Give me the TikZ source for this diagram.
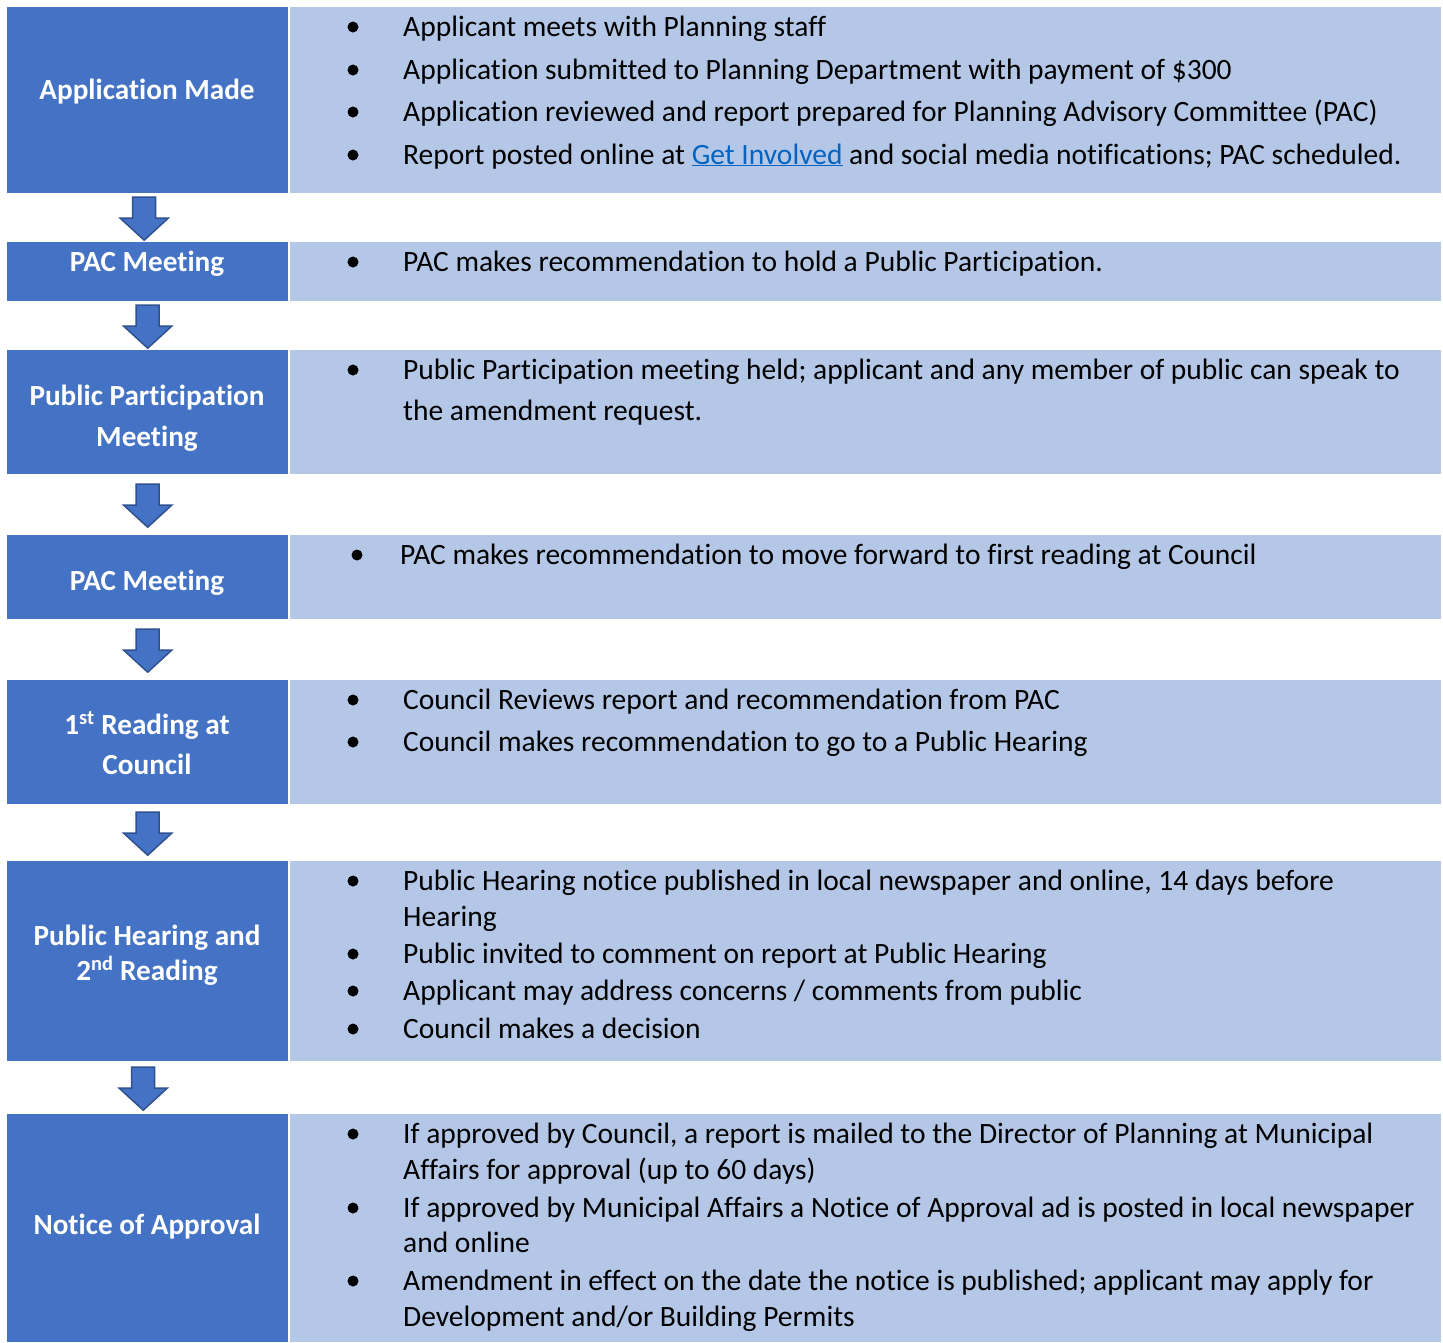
\documentclass[tikz,border=0pt]{standalone}
\usepackage{fontspec}
\setmainfont{Carlito}[Ligatures=NoCommon]
\usepackage{tikz}
\usetikzlibrary{calc}
\definecolor{darkblue}{HTML}{4472C4}
\definecolor{lightblue}{HTML}{B4C7E7}
\definecolor{edgeblue}{HTML}{2F528F}
\definecolor{linkblue}{HTML}{0563C1}
\tikzset{stepbox/.style = {fill=darkblue, anchor=north west, inner sep=0, minimum width=281pt}}
\tikzset{infobox/.style = {fill=lightblue, anchor=north west, inner sep=0, minimum width=1151pt}}
\tikzset{lbl/.style = {anchor=base, inner sep=0, text=white, font=\fontsize{29.2}{34}\selectfont\bfseries}}
\tikzset{txt/.style = {anchor=base west, inner sep=0, font=\fontsize{29.5}{34}\selectfont}}
\tikzset{downarr/.pic = {
  \filldraw [fill=darkblue, draw=edgeblue, line width=1.5pt, line join=miter]
    (-11.5,-21.5) -- (11.5,-21.5) -- (11.5,-0.5) -- (24,-0.5) -- (0,21.5)
    -- (-24,-0.5) -- (-11.5,-0.5) -- cycle;
}}

\begin{document}
\begin{tikzpicture}[x=1pt, y=-1pt]
  \useasboundingbox (0,0) rectangle (1443,1342);
  \foreach \i/\top/\ht in {1/7/186, 2/242/59, 3/350/124, 4/535/84, 5/680/124, 6/861/200, 7/1114/228} {
    \node (s\i) [stepbox, minimum height=\ht pt] at (7,\top) {};
    \node (d\i) [infobox, minimum height=\ht pt] at (290,\top) {};
  }
  \foreach \a/\b/\dx in {s1/s2/-3.5, s2/s3/0, s3/s4/0, s4/s5/0, s5/s6/0, s6/s7/-4.5} {
    \pic at ($(\a.south)!0.5!(\b.north)+(\dx,1)$) {downarr};
  }
  % left column
  \node (l1) [lbl] at (147,99) {Application Made};
  \node (l2) [lbl] at (147,271) {PAC Meeting};
  \node (l3a) [lbl] at (147,405) {Public Participation};
  \node (l3b) [lbl] at (147,446) {Meeting};
  \node (l4) [lbl] at (147,590) {PAC Meeting};
  \node (l5a) [lbl] at (147,734) {1\textsuperscript{st} Reading at};
  \node (l5b) [lbl] at (147,774) {Council};
  \node (l6a) [lbl] at (147,945) {Public Hearing and};
  \node (l6b) [lbl] at (147,980) {2\textsuperscript{nd} Reading};
  \node (l7) [lbl] at (147,1234) {Notice of Approval};
  % bullets
  \foreach \yb in {36,79,121,164,271,379,709,751,890,963,1000,1038,1143,1217,1290} {
    \fill (353,{\yb-9}) circle (5.5);
  }
  \fill (357,555) circle (5.5);
  % right column
  \node (t1a) [txt] at (403,36) {Applicant meets with Planning staff};
  \node (t1b) [txt] at (403,79) {Application submitted to Planning Department with payment of \$300};
  \node (t1c) [txt] at (403,121) {Application reviewed and report prepared for Planning Advisory Committee (PAC)};
  \node (t1d) [txt] at (403,164) {Report posted online at {\color{linkblue}\underline{Get Involved}} and social media notifications; PAC scheduled.};
  \node (t2) [txt] at (403,271) {PAC makes recommendation to hold a Public Participation.};
  \node (t3a) [txt] at (403,379) {Public Participation meeting held; applicant and any member of public can speak to};
  \node (t3b) [txt] at (403,420) {the amendment request.};
  \node (t4) [txt] at (400,564) {PAC makes recommendation to move forward to first reading at Council};
  \node (t5a) [txt] at (403,709) {Council Reviews report and recommendation from PAC};
  \node (t5b) [txt] at (403,751) {Council makes recommendation to go to a Public Hearing};
  \node (t6a) [txt] at (403,890) {Public Hearing notice published in local newspaper and online, 14 days before};
  \node (t6b) [txt] at (403,926) {Hearing};
  \node (t6c) [txt] at (403,963) {Public invited to comment on report at Public Hearing};
  \node (t6d) [txt] at (403,1000) {Applicant may address concerns / comments from public};
  \node (t6e) [txt] at (403,1038) {Council makes a decision};
  \node (t7a) [txt] at (403,1143) {If approved by Council, a report is mailed to the Director of Planning at Municipal};
  \node (t7b) [txt] at (403,1179) {Affairs for approval (up to 60 days)};
  \node (t7c) [txt] at (403,1217) {If approved by Municipal Affairs a Notice of Approval ad is posted in local newspaper};
  \node (t7d) [txt] at (403,1252) {and online};
  \node (t7e) [txt] at (403,1290) {Amendment in effect on the date the notice is published; applicant may apply for};
  \node (t7f) [txt] at (403,1326) {Development and/or Building Permits};
\end{tikzpicture}
\end{document}
